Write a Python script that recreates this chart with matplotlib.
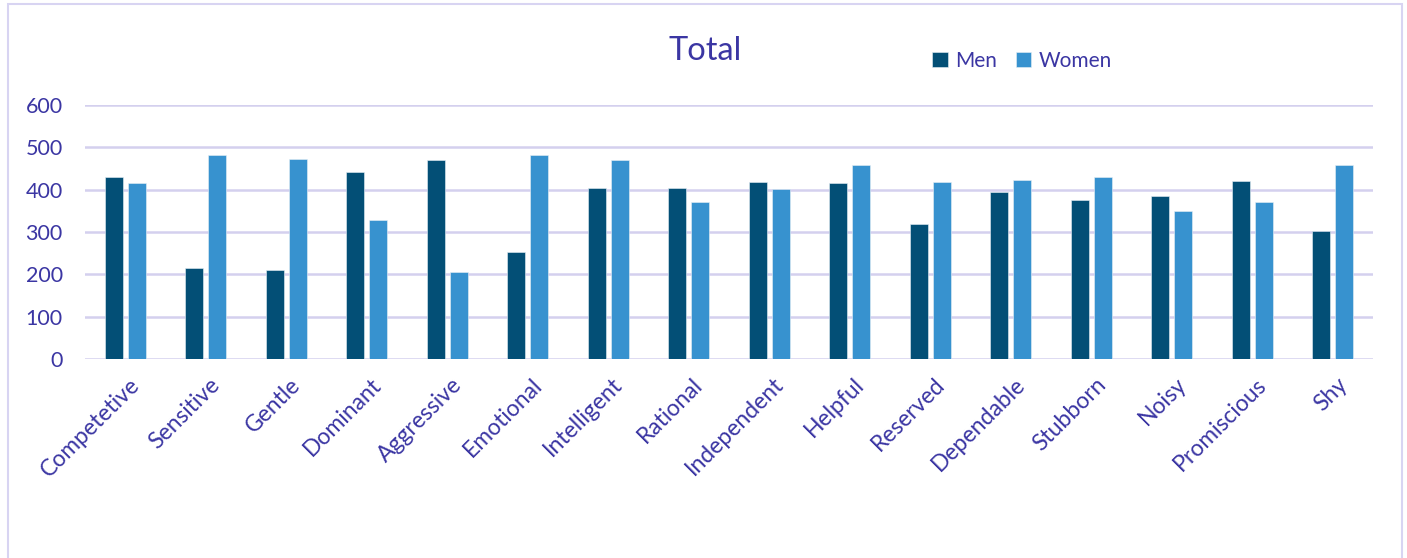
import matplotlib
matplotlib.use("Agg")
import matplotlib.pyplot as plt
import matplotlib.transforms as mtransforms
from matplotlib.patches import Rectangle
import numpy as np

categories = ["Competetive", "Sensitive", "Gentle", "Dominant", "Aggressive", "Emotional",
              "Intelligent", "Rational", "Independent", "Helpful", "Reserved", "Dependable",
              "Stubborn", "Noisy", "Promiscious", "Shy"]
men = [430, 214, 210, 441, 470, 253, 404, 405, 418, 415, 318, 395, 375, 385, 420, 302]
women = [415, 481, 472, 328, 206, 481, 470, 370, 402, 459, 418, 423, 430, 349, 370, 459]
yticks = [0, 100, 200, 300, 400, 500, 600]

TEXT = "#3B36A3"
GRID = "#D4D0EE"
MEN_C = "#034F76"
WOMEN_C = "#3792CF"
FONT = "Lato"

fig = plt.figure(figsize=(14.07, 5.58), dpi=100)
fig.patches.append(Rectangle((8/1407, -0.05), (1402-8)/1407, 1.05 - 4/558, transform=fig.transFigure,
                             fill=False, edgecolor="#D8D4F2", linewidth=1.5))

ax = fig.add_axes([85/1407, 1-359/558, (1373-85)/1407, (359-105)/558])
x = np.arange(len(categories))
w = 0.224
off = 0.143
ax.bar(x - off, men, w, color=MEN_C, edgecolor="#E8F0F6", linewidth=0.4, label="Men", zorder=3)
ax.bar(x + off, women, w, color=WOMEN_C, edgecolor="#E8F0F6", linewidth=0.4, label="Women", zorder=3)

ax.set_xlim(-0.5, len(categories) - 0.5)
ax.set_ylim(0, 600)
ax.set_yticks(yticks)
ax.set_yticklabels([str(v) for v in yticks], fontsize=15.5, color=TEXT, fontfamily=FONT)
ax.tick_params(axis="y", length=0, pad=16)
ax.yaxis.grid(True, color=GRID, linewidth=1.8, zorder=0)
ax.set_axisbelow(True)
for s in ax.spines.values():
    s.set_visible(False)

ax.set_xticks(x)
ax.set_xticklabels(categories, rotation=45, ha="right", va="center", rotation_mode="anchor",
                   fontsize=16.5, color=TEXT, fontfamily=FONT)
ax.tick_params(axis="x", length=0, pad=16)
shift = mtransforms.ScaledTranslation(11/100, 0, fig.dpi_scale_trans)
for lab in ax.get_xticklabels():
    lab.set_transform(lab.get_transform() + shift)

fig.text(705/1407, 1-51/558, "Total", ha="center", va="center", fontsize=23.5, color=TEXT, fontfamily=FONT)
leg = fig.legend(loc="center left", bbox_to_anchor=(932/1407, 1-61/558), ncol=2, frameon=False,
                 prop={"family": FONT, "size": 15}, handlelength=0.75, handleheight=0.75,
                 handletextpad=0.35, columnspacing=0.9, borderaxespad=0, borderpad=0)
for t in leg.get_texts():
    t.set_color(TEXT)

fig.savefig("out.png", dpi=100)
